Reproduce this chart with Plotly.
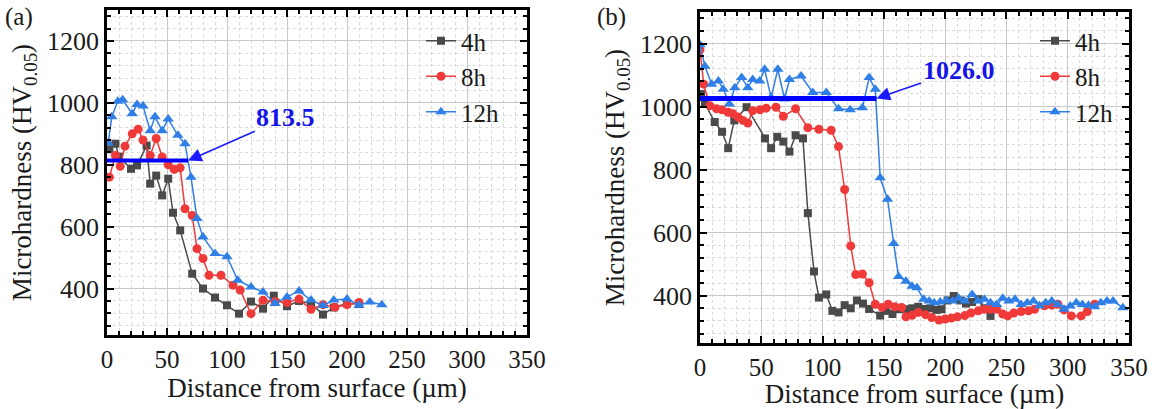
import plotly.graph_objects as go

# ---------------- data ----------------
series_names = ["4h", "8h", "12h"]

a_x_4h = [2, 7, 10, 20, 25, 33, 36, 41, 46, 51, 55, 61, 71, 80, 90, 100, 110, 120, 130, 139, 150, 160, 170, 180, 189, 200, 210]
a_y_4h = [850, 868, 826, 787, 798, 862, 739, 765, 701, 755, 645, 588, 448, 400, 371, 346, 319, 358, 335, 377, 343, 360, 352, 316, 339, 352, 350]

a_x_8h = [2, 7, 11, 15, 21, 26, 30, 36, 41, 46, 51, 56, 61, 65, 71, 75, 80, 85, 95, 105, 111, 120, 130, 140, 150, 160, 170, 180, 190, 200, 210]
a_y_8h = [760, 830, 795, 860, 900, 915, 880, 830, 885, 825, 800, 785, 790, 658, 636, 529, 497, 443, 443, 411, 395, 319, 362, 358, 355, 366, 333, 348, 340, 348, 355]

a_x_12h = [1, 4, 9, 13, 21, 25, 30, 36, 40, 46, 51, 59, 65, 70, 75, 80, 90, 100, 109, 120, 130, 140, 150, 160, 170, 180, 189, 200, 210, 219, 229]
a_y_12h = [870, 955, 1005, 1010, 965, 995, 990, 910, 955, 910, 948, 895, 868, 760, 626, 567, 513, 503, 427, 405, 389, 352, 373, 392, 363, 345, 363, 366, 346, 357, 348]

b_x_4h = [1, 4, 12, 18, 23, 28, 38, 53, 58, 63, 68, 73, 78, 84, 88, 93, 97, 103, 108, 113, 118, 123, 128, 133, 138, 147, 152, 157, 163, 168, 173, 178, 183, 188, 193, 197, 202, 207, 212, 217, 222, 227, 232, 237]
b_y_4h = [1040, 1010, 951, 920, 868, 956, 998, 899, 868, 904, 889, 857, 909, 899, 662, 477, 394, 404, 352, 347, 370, 360, 385, 375, 358, 337, 352, 342, 357, 357, 360, 365, 358, 360, 355, 357, 385, 399, 385, 375, 380, 389, 360, 336]

b_x_8h = [0, 3, 8, 13.5, 18, 23, 27, 31, 35, 39,
          43, 49, 54, 62, 68, 78, 88, 97, 107, 113,
          118, 123, 127, 132.5, 138, 143, 148.6, 153.5, 159, 164.5,
          168, 173, 178, 184, 189, 195, 200, 205, 210, 216,
          221, 227, 232, 237, 242, 247, 251, 256, 262, 268,
          273, 281, 287, 292, 297, 303, 311, 316, 322]
b_y_8h = [1180, 1071, 1003, 993, 990, 982, 977, 967, 956, 948,
          987, 990, 995, 998, 969, 993, 933, 928, 925, 873,
          737, 558, 467, 469, 441, 373, 363, 373, 365, 363,
          333, 338, 347, 340, 331, 323, 326, 329, 333, 337,
          345, 352, 357, 357, 357, 342, 336, 345, 350, 352,
          357, 368, 370, 373, 355, 336, 336, 350, 373]

b_x_12h = [0, 4, 9.5, 15, 19, 24, 28.4, 34, 39, 43,
           48.7, 52.7, 58, 63.5, 69, 73, 82.5, 92, 103, 113,
           122.5, 132.5, 138, 143, 147, 153, 158, 162, 168, 173,
           177, 182.5, 187, 191, 196, 201, 206, 211, 216, 222,
           227, 232, 237, 242, 247, 252, 257, 262, 267, 272,
           277, 282, 287, 292, 297, 302, 307, 312, 317, 322,
           327, 332, 337, 345]
b_y_12h = [1196, 1128, 1071, 1081, 1055, 1008, 1060, 1092, 1060, 1086,
           1081, 1118, 1029, 1118, 1024, 1086, 1097, 1045, 1045, 993,
           990, 996, 1092, 1055, 774, 706, 566, 461, 446, 430,
           425, 389, 383, 378, 380, 385, 383, 392, 383, 404,
           383, 389, 378, 372, 392, 383, 389, 372, 378, 383,
           368, 378, 383, 372, 357, 367, 378, 372, 370, 365,
           378, 383, 383, 362]

a_plateau_value = 813.5
a_plateau_end = 67.5
b_plateau_value = 1026.0
b_plateau_end = 144

x_ticks = [0, 50, 100, 150, 200, 250, 300, 350]
y_ticks = [400, 600, 800, 1000, 1200]

# ---------------- styles ----------------
FONT = "Liberation Serif"
colors = ["#4a4a4a", "#f03a3a", "#2f7fe6"]
symbols = ["square", "circle", "triangle-up"]
msizes = [8, 9, 10]

W, H = 1155, 409
fig = go.Figure()

panel_a = [(a_x_4h, a_y_4h), (a_x_8h, a_y_8h), (a_x_12h, a_y_12h)]
panel_b = [(b_x_4h, b_y_4h), (b_x_8h, b_y_8h), (b_x_12h, b_y_12h)]

for i, (xs, ys) in enumerate(panel_a):
    fig.add_trace(go.Scatter(x=xs, y=ys, mode="lines+markers", name=series_names[i],
                             line=dict(color=colors[i], width=1.5),
                             marker=dict(symbol=symbols[i], size=msizes[i], color=colors[i]),
                             xaxis="x", yaxis="y", legend="legend"))
for i, (xs, ys) in enumerate(panel_b):
    fig.add_trace(go.Scatter(x=xs, y=ys, mode="lines+markers", name=series_names[i],
                             line=dict(color=colors[i], width=1.5),
                             marker=dict(symbol=symbols[i], size=msizes[i], color=colors[i]),
                             xaxis="x2", yaxis="y2", legend="legend2"))

def xaxis_cfg(domain, anchor):
    return dict(domain=domain, anchor=anchor, range=[0, 350], tickvals=x_ticks,
                automargin=False,
                ticks="inside", ticklen=7, tickwidth=2, tickcolor="black",
                showline=True, linewidth=2.5, linecolor="black", mirror="allticks",
                showgrid=True, gridcolor="#c9c9c9", gridwidth=1.3, zeroline=False,
                minor=dict(dtick=10, tick0=0, ticks="inside", ticklen=4, tickwidth=1.5,
                           tickcolor="black", showgrid=True, gridcolor="#dadada",
                           griddash="dot", gridwidth=1),
                tickfont=dict(family=FONT, size=25, color="#1a1a1a"),
                title=dict(text="Distance from surface (µm)", standoff=4,
                           font=dict(family=FONT, size=27, color="#1a1a1a")))

def yaxis_cfg(domain, anchor):
    return dict(domain=domain, anchor=anchor, range=[250, 1300], tickvals=y_ticks,
                automargin=False,
                ticks="inside", ticklen=7, tickwidth=2, tickcolor="black",
                showline=True, linewidth=2.5, linecolor="black", mirror="allticks",
                showgrid=True, gridcolor="#c9c9c9", gridwidth=1.3, zeroline=False,
                minor=dict(dtick=40, tick0=0, ticks="inside", ticklen=4, tickwidth=1.5,
                           tickcolor="black", showgrid=True, gridcolor="#dadada",
                           griddash="dot", gridwidth=1),
                tickfont=dict(family=FONT, size=26, color="#1a1a1a"),
                title=dict(text="Microhardness (HV<sub>0.05</sub>)", standoff=8,
                           font=dict(family=FONT, size=27, color="#1a1a1a")))

legend_common = dict(xanchor="left", yanchor="top", bgcolor="rgba(0,0,0,0)",
                     font=dict(family=FONT, size=25, color="#1a1a1a"), tracegroupgap=0)

fig.update_layout(
    width=W, height=H, margin=dict(l=0, r=0, t=0, b=0, autoexpand=False),
    paper_bgcolor="white", plot_bgcolor="white",
    font=dict(family=FONT, color="#1a1a1a"),
    xaxis=xaxis_cfg([107 / W, 527 / W], "y"),
    yaxis=yaxis_cfg([1 - 335 / H, 1 - 10 / H], "x"),
    xaxis2=xaxis_cfg([700 / W, 1129 / W], "y2"),
    yaxis2=yaxis_cfg([1 - 343 / H, 1 - 12 / H], "x2"),
    legend=dict(x=421 / W, y=1 - 18 / H, **legend_common),
    legend2=dict(x=1035 / W, y=1 - 18 / H, **legend_common),
    showlegend=True,
)

# plateau lines
fig.add_shape(type="line", xref="x", yref="y", x0=0, x1=a_plateau_end,
              y0=a_plateau_value, y1=a_plateau_value, line=dict(color="#0000ff", width=4))
fig.add_shape(type="line", xref="x2", yref="y2", x0=0, x1=b_plateau_end,
              y0=b_plateau_value, y1=b_plateau_value, line=dict(color="#0000ff", width=5))

# value labels with arrows pointing at plateau ends
fig.add_annotation(xref="x", yref="y", axref="x", ayref="y", x=a_plateau_end, y=a_plateau_value,
                   ax=149, ay=952, text="<b>%.1f</b>" % a_plateau_value, showarrow=True,
                   arrowhead=2, arrowsize=1.7, arrowwidth=1.6, arrowcolor="#1a1aff", standoff=0,
                   font=dict(family=FONT, size=26, color="#1414e6"))
fig.add_annotation(xref="x2", yref="y2", axref="x2", ayref="y2", x=b_plateau_end, y=b_plateau_value,
                   ax=211, ay=1116, text="<b>%.1f</b>" % b_plateau_value, showarrow=True,
                   arrowhead=2, arrowsize=1.7, arrowwidth=1.6, arrowcolor="#1a1aff", standoff=0,
                   font=dict(family=FONT, size=26, color="#1414e6"))

# panel labels
fig.add_annotation(xref="paper", yref="paper", x=3 / W, y=1 - 1 / H, xanchor="left", yanchor="top",
                   text="(a)", showarrow=False, font=dict(family=FONT, size=25, color="#1a1a1a"))
fig.add_annotation(xref="paper", yref="paper", x=595 / W, y=1 - 1 / H, xanchor="left", yanchor="top",
                   text="(b)", showarrow=False, font=dict(family=FONT, size=25, color="#1a1a1a"))

fig.write_html("out.html")
